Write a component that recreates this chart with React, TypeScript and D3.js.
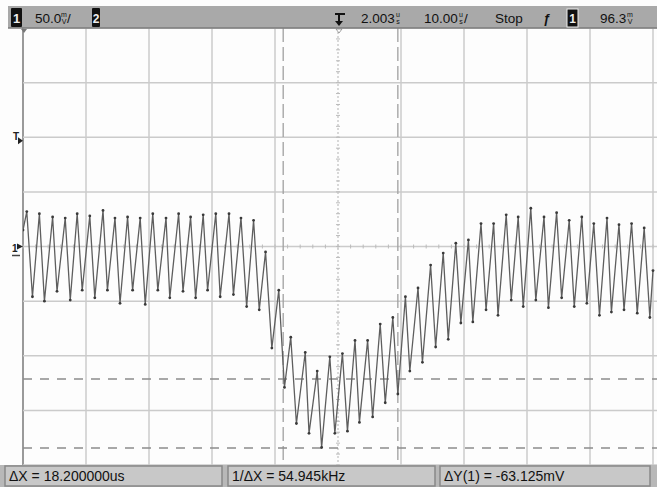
import * as d3 from 'd3'

const W = 657
const H = 487

// scope screen: 10 divisions of 10 us, 8 divisions of 50 mV
const timeDomain: [number, number] = [0, 100]
const voltDomain: [number, number] = [-200, 200]

const traceTime = [
  0, 0.6, 1.5, 2.6, 3.4, 4.7, 5.4, 6.7, 7.5, 8.6, 9.4, 10.6, 11.4, 12.7, 13.4, 14.6, 15.4, 16.6, 17.4,
  18.6, 19.4, 20.6, 21.4, 22.7, 23.3, 24.7, 25.4, 26.6, 27.4, 28.6, 29.3, 30.6, 31.3, 32.7, 33.4, 34.6,
  35.5, 36.6, 37.5, 38.5, 39.5, 40.6, 41.5, 42.5, 43.4, 44.8, 45.4, 46.7, 47.4, 48.7, 49.5, 50.7, 51.5,
  52.7, 53.4, 54.7, 55.5, 56.7, 57.5, 58.7, 59.5, 60.7, 61.4, 62.7, 63.4, 64.7, 65.5, 66.7, 67.5, 68.7,
  69.5, 70.7, 71.4, 72.7, 73.5, 74.7, 75.4, 76.7, 77.5, 78.6, 79.4, 80.6, 81.4, 82.7, 83.4, 84.7, 85.5,
  86.7, 87.5, 88.7, 89.5, 90.6, 91.5, 92.7, 93.4, 94.6, 95.4, 96.6, 97.5, 98.6, 99.5, 100,
]
const traceMv = [
  15, 32, -46, 30, -50, 27, -41, 26, -49, 30, -40, 28, -47, 33, -40, 26, -52, 27, -40,
  26, -53, 30, -40, 26, -47, 30, -41, 27, -47, 29, -40, 30, -46, 30, -44, 26,
  -55, 24, -58, -5, -93, -40, -129, -83, -162, -97, -171, -114, -184, -101, -171, -98, -169,
  -86, -161, -86, -156, -71, -143, -65, -135, -46, -114, -38, -106, -17, -92, -6, -85, 3,
  -70, 6, -69, 21, -58, 21, -63, 29, -49, 27, -55, 35, -49, 27, -56, 31, -47,
  24, -55, 27, -52, 21, -63, 26, -60, 20, -58, 21, -61, 17, -65, -22,
]

const cursorTime = [41.3, 59.5]
const cursorMv = [-121.25, -184.375]
const triggerMv = 96.3

const readouts = ['ΔX = 18.200000us', '1/ΔX = 54.945kHz', 'ΔY(1) = -63.125mV']

const plot = { left: 23, right: 653, top: 28, bottom: 465 }
const font = '"Liberation Sans", Arial, sans-serif'

function SmallUnit({ x, top, bottom }: { x: number; top: string; bottom: string }) {
  return (
    <g fontFamily={font} fontSize={7} fill="#111" textAnchor="middle">
      <text x={x} y={17}>{top}</text>
      <text x={x} y={24}>{bottom}</text>
    </g>
  )
}

export default function App() {
  const x = d3.scaleLinear().domain(timeDomain).range([plot.left, plot.right])
  const y = d3.scaleLinear().domain(voltDomain).range([plot.bottom, plot.top])

  const points = traceTime.map((t, i) => [t, traceMv[i]] as [number, number])
  const line = d3
    .line<[number, number]>()
    .x((d) => x(d[0]))
    .y((d) => y(d[1]))

  const vTicks = d3.range(0, 101, 10)
  const hTicks = d3.range(-200, 201, 50)
  const minorT = d3.range(0, 100.1, 2)
  const minorV = d3.range(-200, 200.1, 10)

  return (
    <svg
      width={W}
      height={H}
      viewBox={`0 0 ${W} ${H}`}
      style={{ position: 'absolute', left: 0, top: 0, background: '#fff' }}
    >
      <defs>
        <clipPath id="plotClip">
          <rect x={plot.left} y={plot.top} width={plot.right - plot.left + 4} height={plot.bottom - plot.top} />
        </clipPath>
      </defs>
      <rect width={W} height={H} fill="#fdfdfd" />

      {/* grid */}
      {vTicks.map((t) => (
        <line
          key={'v' + t}
          x1={x(t)}
          x2={x(t)}
          y1={plot.top}
          y2={plot.bottom}
          stroke={t === 0 ? '#9a9a9a' : '#cbcbcb'}
          strokeWidth={t === 0 ? 2 : 1.5}
          strokeDasharray={t === 50 ? '2,2' : undefined}
        />
      ))}
      {hTicks.map((v) => (
        <line
          key={'h' + v}
          x1={plot.left}
          x2={W}
          y1={y(v)}
          y2={y(v)}
          stroke="#cbcbcb"
          strokeWidth={1.5}
        />
      ))}
      {/* minor ticks on the centre axes */}
      {minorT.map((t) => (
        <line key={'mt' + t} x1={x(t)} x2={x(t)} y1={y(0) - 2} y2={y(0) + 2} stroke="#bbb" strokeWidth={1} />
      ))}
      {minorV.map((v) => (
        <line key={'mv' + v} x1={x(50) - 2} x2={x(50) + 2} y1={y(v)} y2={y(v)} stroke="#bbb" strokeWidth={1} />
      ))}

      {/* cursors */}
      {cursorTime.map((t) => (
        <line
          key={'cx' + t}
          x1={x(t)}
          x2={x(t)}
          y1={plot.top}
          y2={plot.bottom}
          stroke="#a0a0a0"
          strokeWidth={1.3}
          strokeDasharray="14,5"
        />
      ))}
      {cursorMv.map((v) => (
        <line
          key={'cy' + v}
          x1={plot.left}
          x2={W}
          y1={y(v)}
          y2={y(v)}
          stroke="#8c8c8c"
          strokeWidth={1.4}
          strokeDasharray="9,8"
        />
      ))}

      {/* trace */}
      <g clipPath="url(#plotClip)">
        <path d={line(points) ?? ''} fill="none" stroke="#5e5e5e" strokeWidth={1.3} strokeLinejoin="round" />
        {points.map((d, i) => (
          <circle key={i} cx={x(d[0])} cy={y(d[1])} r={1.4} fill="#3a3a3a" />
        ))}
      </g>

      {/* left markers */}
      <g fontFamily={font} fill="#222">
        <text x={13} y={y(triggerMv) - 1} fontSize={10} fontWeight="bold">T</text>
        <path d={`M18,${y(triggerMv) - 4} L23,${y(triggerMv) - 0.5} L18,${y(triggerMv) + 3} Z`} />
        <text x={12} y={y(0) + 5} fontSize={10} fontWeight="bold">1</text>
        <path d={`M17,${y(0) - 3} L23,${y(0)} L17,${y(0) + 3} Z`} />
        <line x1={12} x2={20} y1={y(0) + 9} y2={y(0) + 9} stroke="#444" strokeWidth={1.5} />
      </g>

      {/* top status bar */}
      <rect x={8} y={6} width={W - 8} height={22} fill="#a9a9a9" />
      <line x1={8} x2={W} y1={28} y2={28} stroke="#7d7d7d" strokeWidth={1.5} />
      <rect x={11} y={8} width={11} height={19} fill="#111" rx={1} />
      <text x={16.5} y={23} fontFamily={font} fontSize={13} fontWeight="bold" fill="#eee" textAnchor="middle">1</text>
      <text x={35} y={23} fontFamily={font} fontSize={13.5} fill="#111">50.0</text>
      <SmallUnit x={64} top="m" bottom="V" />
      <text x={67} y={23} fontFamily={font} fontSize={13.5} fill="#111">/</text>
      <rect x={92} y={8} width={8} height={19} fill="#111" rx={1} />
      <text x={96} y={23} fontFamily={font} fontSize={12} fontWeight="bold" fill="#eee" textAnchor="middle">2</text>

      {/* trigger position marker */}
      <path d="M335,14 L345,14 M339,14 L339,24" stroke="#111" strokeWidth={2} fill="none" />
      <path d="M335,21 L339,26 L343,21 Z" fill="#111" />
      <path d="M336,29 L339,33 L342,29 Z" fill="#fff" stroke="#888" strokeWidth={0.8} />
      <path d={`M${plot.left - 2},29 L${plot.left + 4},29 L${plot.left + 1},33 Z`} fill="#777" />

      <text x={361} y={23} fontFamily={font} fontSize={13.5} fill="#111">2.003</text>
      <SmallUnit x={398} top="u" bottom="s" />
      <text x={424} y={23} fontFamily={font} fontSize={13.5} fill="#111">10.00</text>
      <SmallUnit x={461} top="u" bottom="s" />
      <text x={464} y={23} fontFamily={font} fontSize={13.5} fill="#111">/</text>
      <text x={495} y={23} fontFamily={font} fontSize={13.5} fill="#111">Stop</text>
      <text x={543} y={23} fontFamily={font} fontSize={13} fontStyle="italic" fontWeight="bold" fill="#111">ƒ</text>
      <rect x={567} y={9} width={11} height={18} fill="#111" stroke="#eee" strokeWidth={1} />
      <text x={572.5} y={23} fontFamily={font} fontSize={12} fontWeight="bold" fill="#eee" textAnchor="middle">1</text>
      <text x={600} y={23} fontFamily={font} fontSize={13.5} fill="#111">96.3</text>
      <SmallUnit x={630} top="m" bottom="V" />

      {/* bottom readout bar */}
      <rect x={0} y={465} width={W} height={22} fill="#b8b8b8" />
      {readouts.map((txt, i) => {
        const bx = [5, 228, 440][i]
        const bw = [217, 207, 210][i]
        return (
          <g key={txt}>
            <rect x={bx} y={466} width={bw} height={20} fill="#c8c8c8" stroke="#888" strokeWidth={1.5} />
            <text x={bx + 4} y={481} fontFamily={font} fontSize={14} fill="#111">{txt}</text>
          </g>
        )
      })}
    </svg>
  )
}
